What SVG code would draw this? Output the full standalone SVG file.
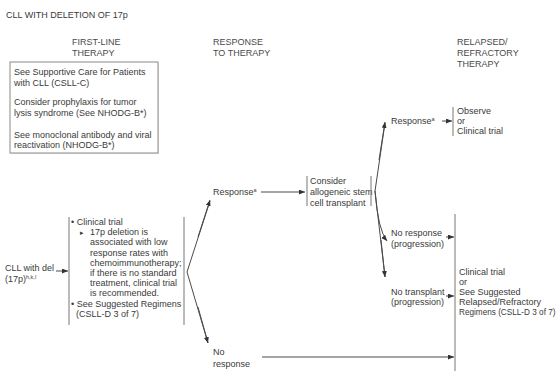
<svg xmlns="http://www.w3.org/2000/svg" width="560" height="372" viewBox="0 0 560 372">
<style>
text{font-family:"Liberation Sans","DejaVu Sans",Arial,sans-serif;font-size:9px;fill:#3a3a3a}
.h{fill:#4a4a4a}
.sup{font-size:5.5px}
.ln{stroke:#4a4a4a;stroke-width:1;fill:none}
.ar{marker-end:url(#ah)}
.br{stroke:#777;stroke-width:1;fill:none}
</style>
<defs>
<marker id="ah" markerUnits="userSpaceOnUse" markerWidth="7" markerHeight="6" refX="6" refY="2.5" orient="auto">
<path d="M0,0 L6,2.5 L0,5 z" fill="#333"/>
</marker>
</defs>
<rect width="560" height="372" fill="#fff"/>
<g id="title"><text x="6" y="18">CLL WITH DELETION OF 17p</text></g>
<g id="hdr-first"><text class="h" x="72" y="45">FIRST-LINE</text><text class="h" x="72" y="56">THERAPY</text></g>
<g id="hdr-response"><text class="h" x="213" y="45">RESPONSE</text><text class="h" x="213" y="56">TO THERAPY</text></g>
<g id="hdr-relapsed"><text class="h" x="457" y="45">RELAPSED/</text><text class="h" x="457" y="56">REFRACTORY</text><text class="h" x="457" y="67">THERAPY</text></g>
<g id="supportive-box">
<rect x="11" y="63" width="148" height="91" fill="#e6e6e6"/>
<rect x="10" y="62" width="148" height="91" fill="#fff" stroke="#8a8a8a" stroke-width="1"/>
<text x="14" y="75">See Supportive Care for Patients</text>
<text x="14" y="86">with CLL (CSLL-C)</text>
<text x="14" y="105">Consider prophylaxis for tumor</text>
<text x="14" y="116">lysis syndrome (See NHODG-B*)</text>
<text x="14" y="138">See monoclonal antibody and viral</text>
<text x="14" y="148">reactivation (NHODG-B*)</text>
</g>
<g id="cll-del17p"><text x="5" y="271" textLength="49" lengthAdjust="spacingAndGlyphs">CLL with del</text><text x="5" y="282">(17p)<tspan class="sup" dy="-3.5">h,k,l</tspan></text></g>
<g id="first-line">
<line class="br" x1="69" y1="217" x2="69" y2="325"/>
<text x="71" y="225">• Clinical trial</text>
<text x="80" y="235.2" style="font-size:7px">▸</text>
<text x="90" y="235.2">17p deletion is</text>
<text x="90" y="245.4">associated with low</text>
<text x="90" y="255.6">response rates with</text>
<text x="90" y="265.8">chemoimmunotherapy;</text>
<text x="90" y="276">if there is no standard</text>
<text x="90" y="286.2">treatment, clinical trial</text>
<text x="90" y="296.4">is recommended.</text>
<text x="71" y="306.6">• See Suggested Regimens</text>
<text x="76" y="316.8">(CSLL-D 3 of 7)</text>
<line class="br" x1="184" y1="217" x2="184" y2="325"/>
</g>
<g id="response1"><text x="213" y="195">Response<tspan class="sup" dy="-3">a</tspan></text></g>
<g id="no-response1"><text x="213" y="355">No</text><text x="213" y="367">response</text></g>
<g id="allo-sct">
<line class="br" x1="307" y1="176" x2="307" y2="206"/>
<text x="310" y="184">Consider</text>
<text x="310" y="195">allogeneic stem</text>
<text x="310" y="206">cell transplant</text>
<line class="br" x1="371" y1="176" x2="371" y2="206"/>
</g>
<g id="response2"><text x="391" y="124">Response<tspan class="sup" dy="-3">a</tspan></text></g>
<g id="observe">
<line class="br" x1="453" y1="107" x2="453" y2="136"/>
<text x="457" y="114">Observe</text>
<text x="457" y="124">or</text>
<text x="457" y="134">Clinical trial</text>
</g>
<g id="no-response2"><text x="391" y="236">No response</text><text x="391" y="247">(progression)</text></g>
<g id="no-transplant"><text x="391" y="295">No transplant</text><text x="391" y="305">(progression)</text></g>
<g id="relapsed-tx">
<line class="br" x1="455" y1="214" x2="455" y2="371"/>
<text x="459" y="275">Clinical trial</text>
<text x="459" y="285">or</text>
<text x="459" y="295">See Suggested</text>
<text x="459" y="305">Relapsed/Refractory</text>
<text x="459" y="315" style="font-size:8.2px">Regimens (CSLL-D 3 of 7)</text>
</g>
<g id="connectors">
<line class="ln ar" x1="56" y1="271" x2="68" y2="271"/>
<polyline class="ln" points="210,201 187,272 208,343"/>
<line class="ln ar" x1="198" y1="237" x2="210" y2="200"/>
<line class="ln ar" x1="198" y1="307" x2="208" y2="343"/>
<line class="ln ar" x1="261" y1="192" x2="305" y2="192"/>
<polyline class="ln" points="385,123 375,191 385,277"/>
<line class="ln ar" x1="379" y1="160" x2="385" y2="122"/>
<path class="ln ar" d="M375,191 Q378,230 387,241"/>
<line class="ln ar" x1="381" y1="240" x2="385" y2="277"/>
<line class="ln ar" x1="442" y1="121" x2="452" y2="121"/>
<line class="ln ar" x1="446" y1="237" x2="454" y2="237"/>
<line class="ln ar" x1="446" y1="296" x2="454" y2="296"/>
<line class="ln ar" x1="262" y1="357" x2="454" y2="357"/>
</g>
</svg>
